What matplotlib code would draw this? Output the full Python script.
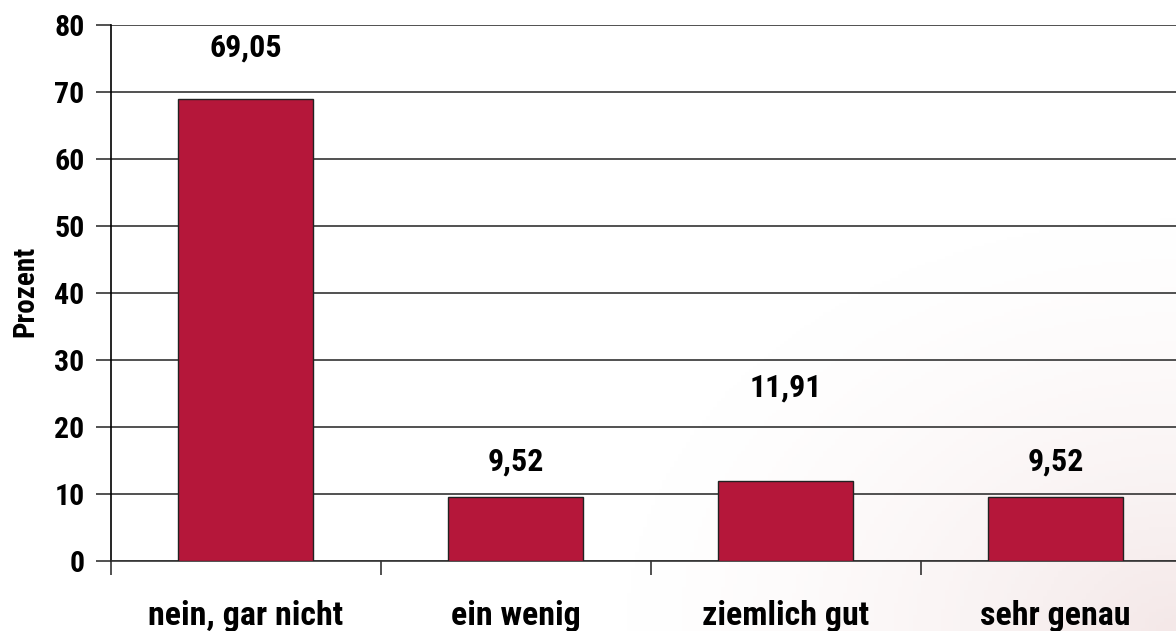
import numpy as np
import matplotlib.pyplot as plt
from matplotlib import font_manager

categories = ["nein, gar nicht", "ein wenig", "ziemlich gut", "sehr genau"]
values = [69.05, 9.52, 11.91, 9.52]
value_labels = ["69,05", "9,52", "11,91", "9,52"]
label_offsets = [7.6, 5.3, 14.0, 5.3]

# look for a narrow bold sans, else fall back to Liberation Sans
fonts = font_manager.fontManager.ttflist
fam, stretch = "Liberation Sans", "normal"
for want in ["Liberation Sans Narrow", "Arial Narrow", "Roboto Condensed", "Open Sans Condensed"]:
    if any(f.name == want for f in fonts):
        fam = want
        break
else:
    for f in fonts:
        if f.name in ("Liberation Sans", "DejaVu Sans", "Roboto", "Noto Sans", "Open Sans") \
                and str(f.stretch) in ("condensed", "semi-condensed") and f.weight in (600, 700, "bold"):
            fam, stretch = f.name, str(f.stretch)
            break
plt.rcParams["font.family"] = [fam, "DejaVu Sans"]
plt.rcParams["font.weight"] = "bold"
plt.rcParams["font.stretch"] = stretch

fig = plt.figure(figsize=(11.76, 6.31), dpi=100)

# faint pink background in the lower right corner
bg = fig.add_axes([0, 0, 1, 1], zorder=0)
yy, xx = np.mgrid[0:1:200j, 0:1:300j]
d = np.sqrt(((xx - 1.0) / 0.5) ** 2 + ((yy - 0.0) / 0.7) ** 2)
alpha = np.clip(1 - d, 0, 1) ** 1.6 * 0.3
img = np.zeros((200, 300, 4))
img[..., 0] = 0.86
img[..., 1] = 0.70
img[..., 2] = 0.70
img[..., 3] = alpha
bg.imshow(img, extent=[0, 1, 0, 1], origin="lower", aspect="auto")
bg.axis("off")

ax = fig.add_axes([0.0944, 0.111, 0.918, 0.8487], zorder=1)
ax.patch.set_alpha(0)

x = np.arange(len(categories))
ax.bar(x, values, width=0.5, color="#B5173A", edgecolor="#222222", linewidth=1.0, zorder=3)

for xi, v, lab, off in zip(x, values, value_labels, label_offsets):
    ax.text(xi, v + off, lab, ha="center", va="center", fontsize=23, fontweight="bold")

ax.set_xlim(-0.5, len(categories) - 0.5)
ax.set_ylim(0, 80)
ax.set_yticks(np.arange(0, 81, 10))
ax.yaxis.grid(True, color="#333333", linewidth=1.2, zorder=0)
ax.set_axisbelow(True)

ax.set_xticks(x)
ax.set_xticklabels(categories, fontsize=24.5, fontweight="bold")
ax.set_xticks(np.arange(-0.5, len(categories), 1), minor=True)
ax.tick_params(axis="x", which="major", length=0, pad=28)
ax.tick_params(axis="x", which="minor", length=10, width=1.2, color="#333333", direction="out")
ax.tick_params(axis="y", length=11, width=1.2, color="#333333", direction="out", labelsize=21.5, pad=8)
for t in ax.get_yticklabels():
    t.set_fontweight("bold")

for s in ["top", "right"]:
    ax.spines[s].set_visible(False)
ax.spines["left"].set_linewidth(1.2)
ax.spines["bottom"].set_linewidth(1.2)
ax.spines["bottom"].set_color("#333333")

fig.text(0.022, 0.539, "Prozent", rotation=90, ha="center", va="center", fontsize=21, fontweight="bold")

fig.savefig("out.png", dpi=100)
